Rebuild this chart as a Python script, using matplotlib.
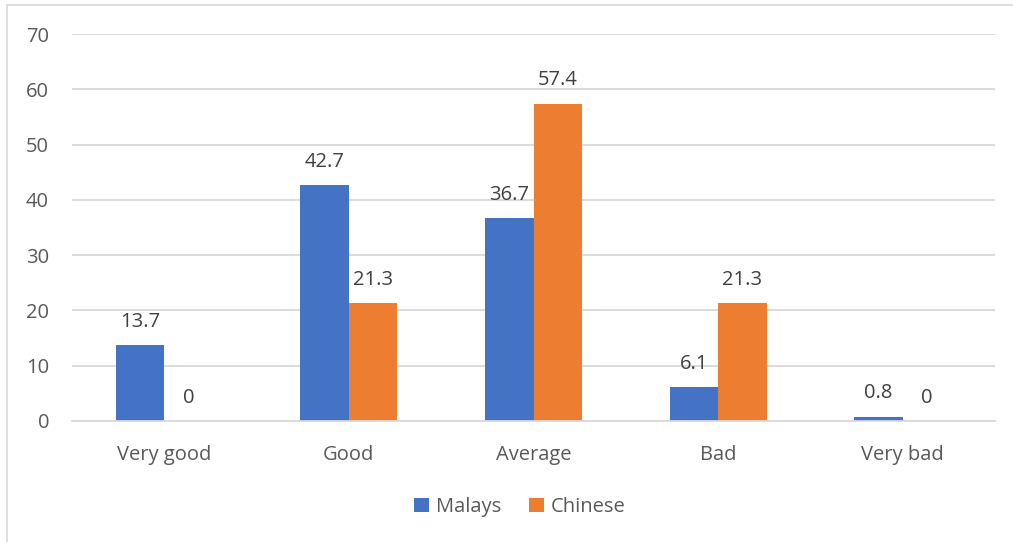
import matplotlib
matplotlib.use("Agg")
import matplotlib.pyplot as plt
from matplotlib.patches import Rectangle
import numpy as np

categories = ["Very good", "Good", "Average", "Bad", "Very bad"]
malays = [13.7, 42.7, 36.7, 6.1, 0.8]
chinese = [0, 21.3, 57.4, 21.3, 0]
series_names = ["Malays", "Chinese"]
yticks = [0, 10, 20, 30, 40, 50, 60, 70]

blue = "#4472C4"
orange = "#ED7D31"
tick_color = "#595959"
label_color = "#404040"

plt.rcParams["font.family"] = ["Open Sans", "DejaVu Sans"]

W, H = 1013, 542
fig = plt.figure(figsize=(W / 100, H / 100), dpi=100)
fig.patch.set_facecolor("white")

# thin frame around the chart area
fig.add_artist(Rectangle((7 / W, 0 - 0.01), 1.2, (H - 5) / H + 0.01,
                         transform=fig.transFigure, fill=False,
                         edgecolor="#D9D9D9", linewidth=1.2))

ax = fig.add_axes([72 / W, 1 - 421 / H, (995 - 72) / W, (421 - 34) / H])

x = np.arange(len(categories))
w = 0.263
b1 = ax.bar(x - w / 2, malays, w, color=blue, label=series_names[0])
b2 = ax.bar(x + w / 2, chinese, w, color=orange, label=series_names[1])

fs = 14.5
for bars, vals in ((b1, malays), (b2, chinese)):
    for rect, v in zip(bars, vals):
        ax.annotate(f"{v:g}", (rect.get_x() + rect.get_width() / 2, v),
                    xytext=(0, 9.5), textcoords="offset points",
                    ha="center", va="bottom", fontsize=fs, color=label_color)

ax.set_xlim(-0.5, len(categories) - 0.5)
ax.set_ylim(0, 70)
ax.set_yticks(yticks)
ax.set_xticks(x)
ax.set_xticklabels(categories)
ax.tick_params(axis="both", length=0, labelsize=fs, colors=tick_color)
ax.tick_params(axis="y", pad=16.5)
ax.tick_params(axis="x", pad=17)
ax.yaxis.grid(True, color="#D9D9D9", linewidth=1.3)
ax.set_axisbelow(True)
for s in ("top", "right", "left"):
    ax.spines[s].set_visible(False)
ax.spines["bottom"].set_color("#D9D9D9")
ax.spines["bottom"].set_linewidth(1.3)

leg = fig.legend(handles=[b1, b2], labels=series_names, loc="center",
                 bbox_to_anchor=(520 / W, 1 - 507 / H), ncol=2, frameon=False,
                 fontsize=fs, handlelength=0.75, handleheight=0.75,
                 handletextpad=0.35, columnspacing=1.35)
for t in leg.get_texts():
    t.set_color(tick_color)

fig.savefig("out.png", dpi=100, facecolor="white")
